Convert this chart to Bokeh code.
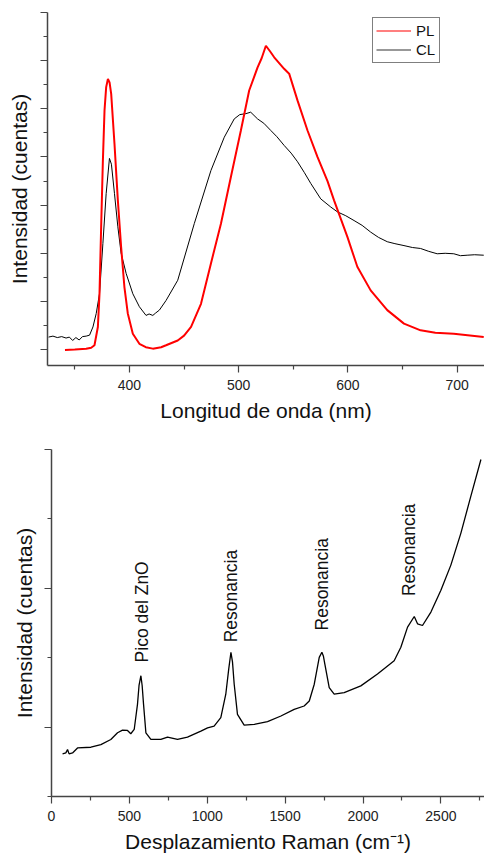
from bokeh.plotting import figure
from bokeh.models import FixedTicker, CustomJSTickFormatter, Legend, LegendItem, ColumnDataSource, Range1d
from bokeh.core.properties import value
from bokeh.embed import file_html
from bokeh.resources import INLINE

# ---------------- data: luminescence (top) ----------------
pl_nm = [341, 350, 360.4, 365, 368, 371.1, 372.6, 374.1, 375.7, 377.2, 378.7, 380.3, 381.8, 383.3,
         386.3, 389.4, 392.4, 395.4, 398.5, 403.1, 409.1, 415, 421.4, 429, 433.5, 444.2, 450, 456.4,
         465.5, 474.6, 483.8, 492.9, 502, 509.6, 517.3, 521, 524.9, 528.5, 532.5, 541.6, 546.2, 553.9,
         563, 572.1, 581.3, 587.3, 599.5, 608.6, 620.8, 636, 651.3, 666.5, 680, 696.9, 724.3]
pl_val = [-0.01, 0.0, 0.02, 0.04, 0.09, 0.47, 1.16, 2.54, 3.93, 4.97, 5.45, 5.62, 5.55, 5.31,
          4.28, 3.10, 2.13, 1.30, 0.75, 0.33, 0.12, 0.05, 0.02, 0.05, 0.09, 0.19, 0.29, 0.47,
          0.95, 1.79, 2.62, 3.59, 4.55, 5.38, 5.86, 6.05, 6.31, 6.2, 6.07, 5.83, 5.73, 5.17,
          4.55, 4.0, 3.5, 3.1, 2.34, 1.72, 1.23, 0.82, 0.54, 0.40, 0.35, 0.33, 0.26]

cl_nm = [326, 330, 334, 338, 342, 345, 348, 351, 354, 357, 360.4, 363.5, 366.6, 369.6, 372.6, 375.7,
         378.7, 381.7, 383.5, 386.3, 389.4, 392.4, 397, 403.1, 409.1, 415.2, 418, 421.4, 424, 427.4,
         433.5, 444.2, 459.4, 474.6, 486.8, 495.9, 501, 506.6, 511, 517.3, 523, 529.4, 535, 541.6,
         548, 553.9, 560, 566, 575.1, 584.3, 590.4, 598, 605.6, 613, 620.8, 628, 636, 643, 651.3,
         659, 666.5, 674, 681.7, 689, 696.9, 703, 709.1, 716, 724.3]
cl_val = [0.26, 0.28, 0.25, 0.27, 0.24, 0.26, 0.19, 0.25, 0.2, 0.27, 0.28, 0.30, 0.47, 0.75, 1.16, 2.2,
          3.24, 3.97, 3.85, 3.24, 2.55, 2.0, 1.58, 1.16, 0.89, 0.71, 0.74, 0.71, 0.76, 0.82,
          1.02, 1.44, 2.62, 3.72, 4.41, 4.79, 4.88, 4.9, 4.93, 4.79, 4.7, 4.55, 4.42, 4.24,
          4.08, 3.9, 3.68, 3.45, 3.13, 2.96, 2.86, 2.78, 2.68, 2.58, 2.44, 2.33, 2.24, 2.2, 2.16,
          2.12, 2.1, 2.04, 1.99, 2.0, 1.99, 1.95, 1.96, 1.97, 1.96]

top_xticks = [400, 500, 600, 700]
top_xminor = [350, 450, 550, 650]
top_yticks = [0, 1, 2, 3, 4, 5, 6, 7]
top_yminor = [0.5, 1.5, 2.5, 3.5, 4.5, 5.5, 6.5]

# ---------------- data: Raman (bottom) ----------------
raman_x = [71, 92, 103, 113, 135, 167, 253, 317, 381, 424, 456, 488, 509, 531, 552, 562, 574, 582, 591,
           606, 638, 702, 745, 809, 873, 959, 1002, 1044, 1087, 1119, 1138, 1152, 1162, 1173, 1194, 1237,
           1301, 1387, 1473, 1558, 1622, 1655, 1687, 1719, 1736, 1746, 1755, 1783, 1815, 1879, 1986, 2093,
           2200, 2243, 2286, 2329, 2350, 2382, 2436, 2500, 2564, 2628, 2692, 2757]
raman_y = [0.807, 0.814, 0.838, 0.807, 0.814, 0.850, 0.855, 0.874, 0.911, 0.959, 0.978, 0.976, 0.952, 0.983,
           1.164, 1.30, 1.370, 1.30, 1.164, 0.959, 0.911, 0.911, 0.928, 0.911, 0.928, 0.971, 0.995, 1.007,
           1.068, 1.237, 1.42, 1.539, 1.47, 1.309, 1.092, 1.014, 1.019, 1.039, 1.080, 1.128, 1.152, 1.188,
           1.309, 1.502, 1.539, 1.51, 1.454, 1.285, 1.237, 1.249, 1.297, 1.382, 1.478, 1.575, 1.720, 1.797,
           1.744, 1.732, 1.829, 1.986, 2.167, 2.396, 2.662, 2.928]

ann_text = ["Pico del ZnO", "Resonancia", "Resonancia", "Resonancia"]
ann_x = [578, 1152, 1736, 2297]
ann_y = [1.466, 1.611, 1.696, 1.944]

bot_xticks = [0, 500, 1000, 1500, 2000, 2500]
bot_xminor = [250, 750, 1250, 1750, 2250, 2750]
bot_yticks = [1, 2, 3]
bot_yminor = [0.5, 1.5, 2.5]

FONT = "Liberation Sans"
AXC = "#444444"


def style_axes(p, ylabel_standoff):
    for ax in (p.xaxis[0], p.yaxis[0]):
        ax.axis_line_color = AXC
        ax.axis_line_width = 1.5
        ax.major_tick_line_color = AXC
        ax.minor_tick_line_color = AXC
        ax.major_tick_line_width = 1.2
        ax.minor_tick_line_width = 1.2
        ax.major_tick_out = 7
        ax.major_tick_in = 0
        ax.minor_tick_out = 4
        ax.minor_tick_in = 0
        ax.major_label_text_font = FONT
        ax.major_label_text_font_size = "14px"
        ax.major_label_text_color = "#222222"
        ax.axis_label_text_font = FONT
        ax.axis_label_text_font_size = "21px"
        ax.axis_label_text_font_style = "normal"
        ax.axis_label_text_color = "#111111"
    p.xaxis[0].major_label_standoff = 7
    p.xaxis[0].axis_label_standoff = 6
    p.yaxis[0].major_label_standoff = 0
    p.yaxis[0].axis_label_standoff = ylabel_standoff
    p.yaxis[0].formatter = CustomJSTickFormatter(code="return ''")
    p.xgrid.visible = False
    p.ygrid.visible = False
    p.outline_line_color = None
    p.background_fill_color = "white"
    p.border_fill_color = "white"


# ---------------- top figure ----------------
p1 = figure(width=484, height=424, output_backend="svg", toolbar_location=None,
            x_range=Range1d(325, 725), y_range=Range1d(-0.33, 7.0),
            min_border_left=47, min_border_right=0, min_border_top=12)
p1.xaxis.axis_label = "Longitud de onda (nm)"
p1.yaxis.axis_label = "Intensidad (cuentas)"
p1.xaxis.ticker = FixedTicker(ticks=top_xticks, minor_ticks=top_xminor)
p1.yaxis.ticker = FixedTicker(ticks=top_yticks, minor_ticks=top_yminor)
style_axes(p1, 10)

p1.line(cl_nm, cl_val, line_color="black", line_width=1)
p1.line(pl_nm, pl_val, line_color="#ff0000", line_width=2)
# thin legend-only renderers (a single undefined point, nothing drawn in the plot)
nan = float("nan")
leg_pl = p1.line([nan], [nan], line_color="#ff0000", line_width=1.2)
leg_cl = p1.line([nan], [nan], line_color="#333333", line_width=1.2)

legend = Legend(items=[LegendItem(label="PL", renderers=[leg_pl]),
                       LegendItem(label="CL", renderers=[leg_cl])],
                location=(325, 302))
legend.label_text_font = FONT
legend.label_text_font_size = "15px"
legend.label_text_color = "#111111"
legend.border_line_color = "black"
legend.border_line_width = 1
legend.padding = 3
legend.spacing = 0
legend.margin = 0
legend.label_height = 19
legend.glyph_height = 19
legend.glyph_width = 35
legend.label_standoff = 5
legend.background_fill_alpha = 1
p1.add_layout(legend)

# ---------------- bottom figure ----------------
p2 = figure(width=484, height=431, output_backend="svg", toolbar_location=None,
            x_range=Range1d(0, 2780), y_range=Range1d(0.5, 3.0),
            min_border_left=51, min_border_right=0, min_border_top=25)
p2.xaxis.axis_label = "Desplazamiento Raman (cm\u207b\u00b9)"
p2.yaxis.axis_label = "Intensidad (cuentas)"
p2.xaxis.ticker = FixedTicker(ticks=bot_xticks, minor_ticks=bot_xminor)
p2.yaxis.ticker = FixedTicker(ticks=bot_yticks, minor_ticks=bot_yminor)
style_axes(p2, 9)

p2.line(raman_x, raman_y, line_color="black", line_width=1.3)

ann_src = ColumnDataSource(dict(x=ann_x, y=ann_y, t=ann_text))
p2.text(x="x", y="y", text="t", source=ann_src, angle=1.5708,
        text_align="left", text_baseline="middle",
        text_font=value(FONT), text_font_size="17.5px", text_color="#111111")

# two independent roots stacked vertically (no frame alignment between them)
open("out.html", "w").write(file_html([p1, p2], INLINE))
